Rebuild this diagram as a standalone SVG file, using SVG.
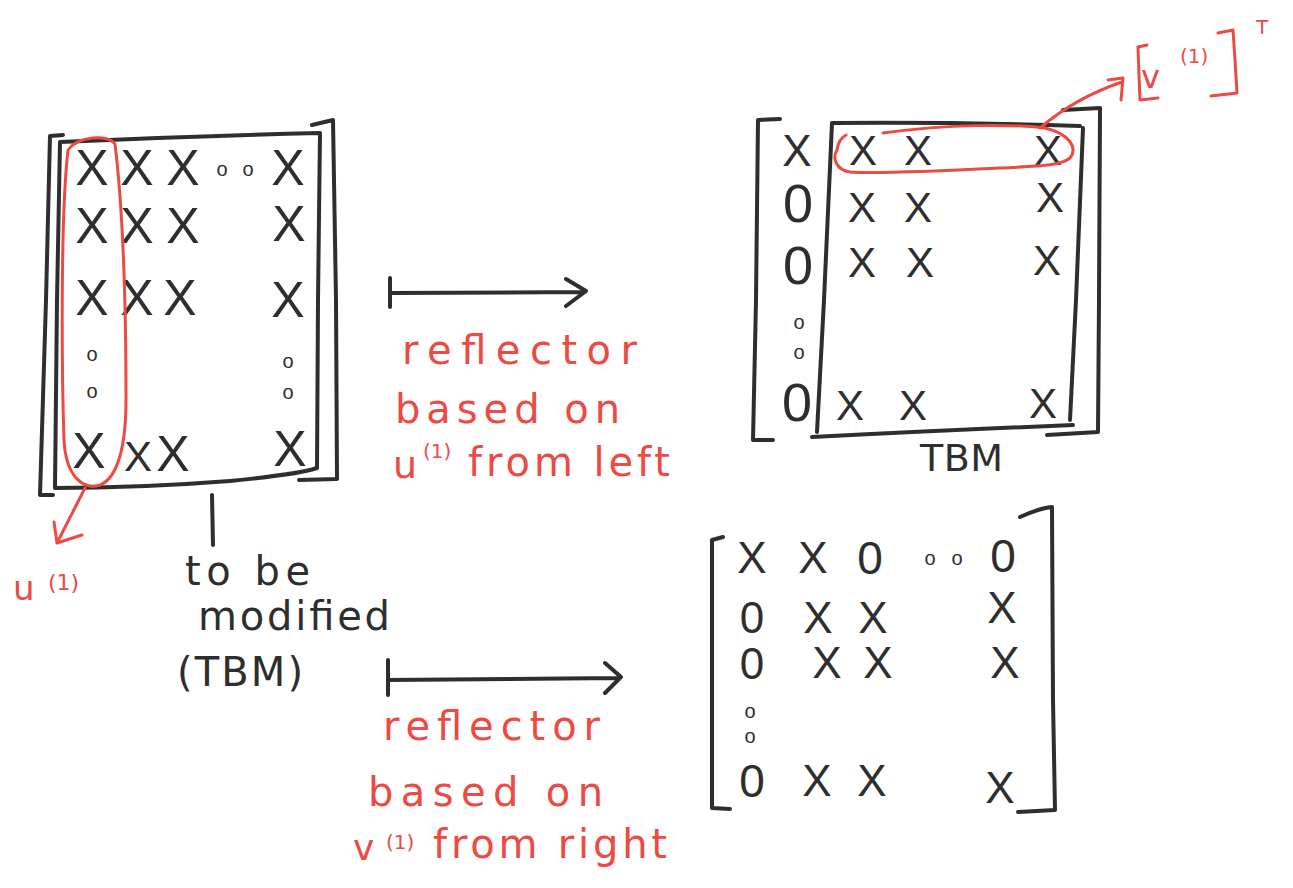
<svg xmlns="http://www.w3.org/2000/svg" width="1293" height="888" viewBox="0 0 1293 888">
<style>
.k{fill:none;stroke:#2e2e2e;stroke-width:4;stroke-linecap:round;stroke-linejoin:round}
.r{fill:none;stroke:#ec4a43;stroke-width:3;stroke-linecap:round;stroke-linejoin:round}
.t{font-family:"Liberation Sans",Arial,sans-serif;fill:#2e2e2e;text-anchor:middle}
.rt{font-family:"DejaVu Sans","Liberation Sans",sans-serif;fill:#ec4a43}
.bt{font-family:"DejaVu Sans","Liberation Sans",sans-serif;fill:#2e2e2e}
.x1{font-size:50px}
.x2{font-size:42px}
.x3{font-size:44px}
.z1{font-size:54px}
.z2{font-size:46px}
.z3{font-size:44px}
.d{font-size:20px}
</style>
<rect width="1293" height="888" fill="#ffffff"/>

<g id="matrix-A">
  <path class="k" d="M63,135 L50,136 L46,300 L40,495 L53,495"/>
  <path class="k" d="M60,142 Q190,136 320,133 L318,300 L317,468 Q300,474 230,481 Q140,488 55,488 L57,300 Z"/>
  <path class="k" d="M312,125 L333,120 L336,300 L337,479 L299,480"/>
  <text class="t x1" x="92" y="185">X</text>
  <text class="t x1" x="137" y="185">X</text>
  <text class="t x1" x="183" y="185">X</text>
  <text class="t d" x="222" y="176">o</text>
  <text class="t d" x="248" y="176">o</text>
  <text class="t x1" x="288" y="185">X</text>
  <text class="t x1" x="92" y="243">X</text>
  <text class="t x1" x="137" y="243">X</text>
  <text class="t x1" x="183" y="243">X</text>
  <text class="t x1" x="289" y="241">X</text>
  <text class="t x1" x="92" y="315">X</text>
  <text class="t x1" x="137" y="315">X</text>
  <text class="t x1" x="180" y="315">X</text>
  <text class="t x1" x="288" y="317">X</text>
  <text class="t d" x="92" y="361">o</text>
  <text class="t d" x="92" y="398">o</text>
  <text class="t d" x="288" y="368">o</text>
  <text class="t d" x="288" y="399">o</text>
  <text class="t x1" x="89" y="468">X</text>
  <text class="t x2" x="138" y="471">X</text>
  <text class="t x1" x="173" y="471">X</text>
  <text class="t x1" x="290" y="466">X</text>
  <path class="r" d="M115,144 C108,134 78,136 68,150 C60,220 62,380 64,440 C66,478 84,490 100,485 C118,478 126,445 126,400 C126,300 123,210 115,144"/>
</g>

<g id="label-u1">
  <text class="rt" x="13" y="600" font-size="34">u</text>
  <text class="rt" x="48" y="590" font-size="22">(1)</text>
</g>

<g id="label-tbm">
  <text class="bt" x="185" y="585" font-size="40" textLength="125" lengthAdjust="spacing">to be</text>
  <text class="bt" x="198" y="630" font-size="40" textLength="192" lengthAdjust="spacing">modified</text>
  <text class="bt" x="177" y="686" font-size="40" textLength="126" lengthAdjust="spacing">(TBM)</text>
</g>

<g id="label-left-reflector">
  <text class="rt" x="402" y="364" font-size="40" textLength="235" lengthAdjust="spacing">reflector</text>
  <text class="rt" x="395" y="423" font-size="40" textLength="225" lengthAdjust="spacing">based on</text>
  <text class="rt" x="393" y="478" font-size="38">u</text>
  <text class="rt" x="423" y="458" font-size="20">(1)</text>
  <text class="rt" x="468" y="476" font-size="40" textLength="202" lengthAdjust="spacing">from left</text>
</g>

<g id="matrix-B">
  <path class="k" d="M780,119 L758,120 L756,300 L753,440 L773,440"/>
  <path class="k" d="M832,123 Q960,122 1080,126 M1083,128 L1076,300 L1070,420 M812,437 Q950,430 1073,425 M832,123 L824,300 L817,432"/>
  <path class="k" d="M1063,110 L1100,108 L1099,300 L1098,432 L1047,435"/>
  <text class="t x3" x="797" y="166">X</text>
  <text class="t z1" x="798" y="222">0</text>
  <text class="t z1" x="798" y="284">0</text>
  <text class="t d" x="799" y="329">o</text>
  <text class="t d" x="799" y="359">o</text>
  <text class="t z1" x="797" y="421">0</text>
  <text class="t x2" x="863" y="165">X</text>
  <text class="t x2" x="918" y="165">X</text>
  <text class="t x2" x="1048" y="165">X</text>
  <text class="t x2" x="862" y="222">X</text>
  <text class="t x2" x="918" y="222">X</text>
  <text class="t x2" x="1050" y="212">X</text>
  <text class="t x2" x="862" y="277">X</text>
  <text class="t x2" x="920" y="277">X</text>
  <text class="t x2" x="1047" y="275">X</text>
  <text class="t x2" x="850" y="420">X</text>
  <text class="t x2" x="913" y="420">X</text>
  <text class="t x2" x="1043" y="418">X</text>
  <text class="bt" x="920" y="471" font-size="38" textLength="83" lengthAdjust="spacing">TBM</text>
  <path class="r" d="M883,133 C950,124 1010,124 1045,128 C1070,134 1078,148 1070,158 C1060,166 1040,166 1000,168 C940,171 880,174 850,172 C836,170 832,158 837,150 C838,143 840,138 846,135"/>
</g>

<g id="label-v1T">
  <path class="r" d="M1147,45 L1138,47 L1139,75 L1140,100 L1158,98"/>
  <text class="rt" x="1141" y="88" font-size="32">v</text>
  <text class="rt" x="1180" y="63" font-size="20">(1)</text>
  <path class="r" d="M1218,33 L1233,30 L1235,60 L1237,93 L1211,96"/>
  <text class="rt" x="1262" y="34" font-size="20" text-anchor="middle">T</text>
</g>

<g id="matrix-C">
  <path class="k" d="M723,537 L712,540 L712,700 L712,808 L730,809"/>
  <path class="k" d="M1020,517 Q1040,508 1052,507 L1053,700 L1055,810 L1018,812"/>
  <text class="t x3" x="752" y="573">X</text>
  <text class="t x3" x="813" y="573">X</text>
  <text class="t z2" x="870" y="574">0</text>
  <text class="t d" x="930" y="565">o</text>
  <text class="t d" x="957" y="565">o</text>
  <text class="t z2" x="1003" y="572">0</text>
  <text class="t z3" x="752" y="633">0</text>
  <text class="t x3" x="818" y="633">X</text>
  <text class="t x3" x="873" y="633">X</text>
  <text class="t x3" x="1002" y="623">X</text>
  <text class="t z3" x="752" y="679">0</text>
  <text class="t x3" x="827" y="678">X</text>
  <text class="t x3" x="878" y="678">X</text>
  <text class="t x3" x="1005" y="678">X</text>
  <text class="t d" x="750" y="718">o</text>
  <text class="t d" x="750" y="743">o</text>
  <text class="t z2" x="752" y="797">0</text>
  <text class="t x3" x="817" y="796">X</text>
  <text class="t x3" x="872" y="796">X</text>
  <text class="t x3" x="1000" y="803">X</text>
</g>

<g id="label-right-reflector">
  <text class="rt" x="383" y="740" font-size="40" textLength="217" lengthAdjust="spacing">reflector</text>
  <text class="rt" x="368" y="806" font-size="40" textLength="235" lengthAdjust="spacing">based on</text>
  <text class="rt" x="353" y="860" font-size="36">v</text>
  <text class="rt" x="386" y="849" font-size="20">(1)</text>
  <text class="rt" x="433" y="858" font-size="40" textLength="234" lengthAdjust="spacing">from right</text>
</g>

<g id="connectors">
  <path class="k" d="M390,278 L390,307 M390,293 L585,292 M566,279 L586,291 L566,306"/>
  <path class="k" d="M388,660 L388,695 M388,680 L620,678 M605,663 L621,677 L605,693"/>
  <path class="k" d="M212,495 L213,545"/>
  <path class="r" d="M85,488 L57,543 M82,535 L57,543 L54,522"/>
  <path class="r" d="M1040,128 Q1075,98 1122,82 M1108,80 L1123,78 L1121,100"/>
</g>
</svg>
